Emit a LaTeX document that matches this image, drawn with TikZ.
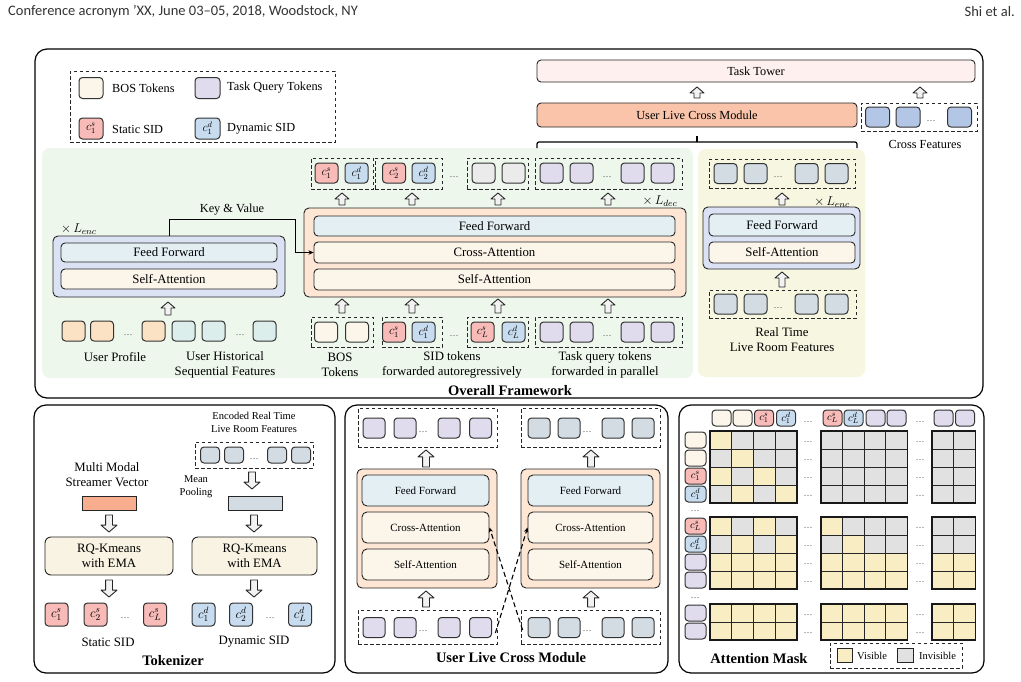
\RequirePackage{fix-cm}
\documentclass[tikz,border=0pt]{standalone}
\usepackage{fontspec}
\setmainfont{Liberation Serif}
\newfontfamily\hdrfont{Carlito}
\usetikzlibrary{fit,calc,arrows.meta}
\definecolor{bos}{HTML}{FBF6E9}
\definecolor{tq}{HTML}{E0DCEE}
\definecolor{ssid}{HTML}{F8BBB8}
\definecolor{dsid}{HTML}{C8DCEF}
\definecolor{prof}{HTML}{FCE2C4}
\definecolor{hist}{HTML}{DCEEEB}
\definecolor{gtok}{HTML}{EBEBEB}
\definecolor{live}{HTML}{D3DCE2}
\definecolor{encfill}{HTML}{DBE2F4}
\definecolor{fffill}{HTML}{E3EFF3}
\definecolor{attfill}{HTML}{FBF5EA}
\definecolor{decfill}{HTML}{FDE6D3}
\definecolor{greenbg}{HTML}{EEF7EC}
\definecolor{yellowbg}{HTML}{F7F6E1}
\definecolor{tower}{HTML}{FDF0EE}
\definecolor{ulcm}{HTML}{F9C4AA}
\definecolor{crossf}{HTML}{B4C6E5}
\definecolor{orangev}{HTML}{F8AD8E}
\definecolor{rq}{HTML}{F8F3E2}
\definecolor{vis}{HTML}{F8EDC3}
\definecolor{invis}{HTML}{E1E1E1}
\tikzset{
  every node/.style={inner sep=0pt},
  tok/.style={draw=black!80,line width=1pt,rounded corners=3.5pt,minimum width=23pt,minimum height=20pt,inner sep=0pt,font=\fontsize{12}{12}\selectfont},
  stok/.style={tok,minimum width=19pt,minimum height=16pt,font=\fontsize{10.5}{10.5}\selectfont},
  dbox/.style={draw=black!85,dash pattern=on 3.5pt off 2.5pt,line width=0.8pt,inner sep=0pt},
  lay/.style={draw=black!85,line width=0.9pt,rounded corners=4pt,inner sep=0pt},
  blk/.style={draw=black!85,line width=0.9pt,rounded corners=5pt,inner sep=0pt},
  panel/.style={draw=black,line width=1.2pt,rounded corners=12pt},
  barrow/.style={draw=black!85,fill=gray!10,line width=0.9pt,line join=round},
  conn/.style={draw=black,line width=1pt,-{Stealth[length=5pt,width=4.5pt]}},
  dots/.style={font=\fontsize{9}{9}\selectfont,text=black!75},
  t13/.style={font=\fontsize{12.8}{15}\selectfont},
  t12/.style={font=\fontsize{12.3}{15}\selectfont},
  t11/.style={font=\fontsize{11}{13}\selectfont},
  t10/.style={font=\fontsize{10.5}{13}\selectfont},
  tb/.style={font=\bfseries\fontsize{14.5}{16}\selectfont}
}
% box node from corner coordinates: \bx{style}{name}{x1}{y1}{x2}{y2}{text}
\newcommand{\bx}[7]{%
  \pgfmathsetmacro\bxcx{(#3+#5)/2}\pgfmathsetmacro\bxcy{(#4+#6)/2}%
  \pgfmathsetmacro\bxw{#5-#3}\pgfmathsetmacro\bxh{#6-#4}%
  \node[#1,minimum width=\bxw pt,minimum height=\bxh pt] (#2) at (\bxcx,\bxcy) {#7};}
\newcommand{\uparr}[3][1]{%
  \draw[barrow] let \p1=#2, \p2=#3 in
  ({\x1-3pt*#1},\y1) -- ({\x1-3pt*#1},{\y2-6pt*#1}) -- ({\x1-7pt*#1},{\y2-6pt*#1}) -- (\x1,\y2)
  -- ({\x1+7pt*#1},{\y2-6pt*#1}) -- ({\x1+3pt*#1},{\y2-6pt*#1}) -- ({\x1+3pt*#1},\y1) -- cycle;}
\newcommand{\downarr}[3][1]{%
  \draw[barrow] let \p1=#2, \p2=#3 in
  ({\x1-3pt*#1},\y1) -- ({\x1-3pt*#1},{\y2+6pt*#1}) -- ({\x1-7pt*#1},{\y2+6pt*#1}) -- (\x1,\y2)
  -- ({\x1+7pt*#1},{\y2+6pt*#1}) -- ({\x1+3pt*#1},{\y2+6pt*#1}) -- ({\x1+3pt*#1},\y1) -- cycle;}
\begin{document}
\begin{tikzpicture}[x=1pt,y=-1pt]
\useasboundingbox (0,0) rectangle (1021,681);
\fill[white] (0,0) rectangle (1021,681);

% header
\node[anchor=west,font=\hdrfont\fontsize{14.5}{15}\selectfont,text=black!80] (hl) at (8,12) {Conference acronym ’XX, June 03–05, 2018, Woodstock, NY};
\node[anchor=east,font=\hdrfont\fontsize{14.5}{15}\selectfont,text=black!80] (hr) at (1015,12) {Shi et al.};

% ===== top panel =====
\draw[panel] (35,49) rectangle (983,398);
\fill[greenbg,rounded corners=8pt] (42,148) rectangle (693,378);
\fill[yellowbg,rounded corners=8pt] (698,149) rectangle (865,377);

% legend
\node[dbox,fit={(70,71)(335,142)}] (legend) {};
\node[tok,fill=bos,minimum width=24pt,minimum height=21pt] (lgbos) at (91,88) {};
\node[t12,anchor=west] (lgbost) at (112,88) {BOS Tokens};
\node[tok,fill=tq,minimum width=25pt,minimum height=21pt] (lgtq) at (207.5,88) {};
\node[t12,anchor=west] (lgtqt) at (227,88) {Task Query Tokens};
\node[tok,fill=ssid,minimum width=24pt,minimum height=21pt] (lgs) at (91,128.5) {$c_1^s$};
\node[t12,anchor=west] (lgst) at (112,129) {Static SID};
\node[tok,fill=dsid,minimum width=25pt,minimum height=21pt] (lgd) at (207.5,128.5) {$c_1^d$};
\node[t12,anchor=west] (lgdt) at (227,129) {Dynamic SID};

% encoder (left)
\bx{blk,fill=encfill}{encbox}{53}{236}{285}{297}{}
\bx{lay,fill=fffill,t13}{eFF}{61}{243}{277}{262}{Feed Forward}
\bx{lay,fill=attfill,t13}{eSA}{61}{269}{277}{289}{Self-Attention}
\node[t13,anchor=west] (lenc) at (61,229) {$\times\, L_{enc}$};
\uparr{(168,315)}{(168,302)}
\foreach \a/\c [count=\i] in {73.5/prof,102/prof,153.5/prof,183.5/hist,213.5/hist,264.5/hist}
  \node[tok,fill=\c] (et\i) at (\a,331) {};
\node[dots] (ed1) at (128,335) {\ldots};
\node[dots] (ed2) at (240,335) {\ldots};
\node[t13] (upl) at (115,357) {User Profile};
\node[t13,align=center] (uhl) at (225,365) {User Historical\\Sequential Features};

% decoder
\bx{blk,fill=decfill}{decbox}{304}{208}{686}{297}{}
\bx{lay,fill=fffill,t13}{dFF}{314}{216}{675}{236}{Feed Forward}
\bx{lay,fill=attfill,t13}{dCA}{314}{242}{675}{263}{Cross-Attention}
\bx{lay,fill=attfill,t13}{dSA}{314}{269}{675}{290}{Self-Attention}
\node[t13] (ldec) at (660,201) {$\times\, L_{dec}$};

\coordinate (kv) at (295,219);
\draw[conn] (encbox.north) |- (kv) |- (dCA.west);
\node[t12] (kvl) at (232,210) {Key \& Value};

% decoder top groups
\node[dbox,fit={(311,158)(373,189)}] (tg1) {};
\node[dbox,fit={(375,158)(442,189)}] (tg2) {};
\node[dbox,fit={(467,158)(528,189)}] (tg3) {};
\node[dbox,fit={(535,158)(682,189)}] (tg4) {};
\foreach \a/\c/\t [count=\i] in {326.5/ssid/{$c_1^s$},356.5/dsid/{$c_1^d$},394/ssid/{$c_2^s$},423.5/dsid/{$c_2^d$},483.5/gtok/{},513.5/gtok/{},551.5/tq/{},581.5/tq/{},632.5/tq/{},662.5/tq/{}}
  \node[tok,fill=\c] (dt\i) at (\a,173) {\t};
\node[dots] (dtd1) at (454,177) {\ldots};
\node[dots] (dtd2) at (607,177) {\ldots};
\foreach \a in {342,412,498,608} {\uparr{(\a,205)}{(\a,193)}}

% decoder bottom groups
\node[dbox,fit={(311,317)(373,347)}] (bg1) {};
\node[dbox,fit={(382,317)(442,347)}] (bg2) {};
\node[dbox,fit={(467,317)(528,347)}] (bg3) {};
\node[dbox,fit={(535,317)(682,347)}] (bg4) {};
\foreach \a/\c/\t [count=\i] in {326/bos/{},357/bos/{},394/ssid/{$c_1^s$},423.5/dsid/{$c_1^d$},482.5/ssid/{$c_L^s$},513.5/dsid/{$c_L^d$},551.5/tq/{},581.5/tq/{},632.5/tq/{},662.5/tq/{}}
  \node[tok,fill=\c] (db\i) at (\a,332) {\t};
\node[dots] (dbd1) at (454,336) {\ldots};
\node[dots] (dbd2) at (607,336) {\ldots};
\foreach \a in {342,412,498,608} {\uparr{(\a,313)}{(\a,299)}}
\node[t13,align=center] (bosl) at (340,365) {BOS\\Tokens};
\node[t13,align=center] (sidl) at (452,365) {SID tokens\\forwarded autoregressively};
\node[t13,align=center] (tql) at (605,365) {Task query tokens\\forwarded in parallel};
\node[tb] (oft) at (510,391) {Overall Framework};

% task tower and cross module
\bx{lay,fill=tower,t12}{tower}{537}{60}{975}{82}{Task Tower}
\uparr{(697,98)}{(697,87)}
\uparr{(920,98)}{(920,87)}
\bx{lay,fill=ulcm,t12}{ulcmn}{537}{103}{857}{127}{User Live Cross Module}
\draw[line width=1.2pt,rounded corners=2pt] (537,148) -- (537,142) -- (857,142) -- (857,148);
\draw[line width=1.2pt] (697,142) -- (697,136);
\node[dbox,fit={(861,103)(977,131)}] (cfbox) {};
\foreach \a [count=\i] in {877.5,908,959.5}
  \node[tok,fill=crossf,minimum width=24pt] (cf\i) at (\a,117) {};
\node[dots] (cfd) at (931,121) {\ldots};
\node[t12] (cfl) at (925,144) {Cross Features};

% live room encoder
\node[dbox,fit={(709,159)(855,188)}] (ltop) {};
\foreach \a [count=\i] in {725.5,755.5,806.5,836.5}
  \node[tok,fill=live] (lt\i) at (\a,173.5) {};
\node[dots] (ltd) at (778,177) {\ldots};
\uparr{(782,205)}{(782,193)}
\node[t13] (lenc2) at (832,202) {$\times\, L_{enc}$};
\bx{blk,fill=encfill}{encbox2}{703}{207}{860}{269}{}
\bx{lay,fill=fffill,t13}{e2FF}{709}{214}{855}{236}{Feed Forward}
\bx{lay,fill=attfill,t13}{e2SA}{709}{242}{855}{263}{Self-Attention}
\uparr{(782,287)}{(782,272)}
\node[dbox,fit={(709,290)(856,318)}] (lbotbox) {};
\foreach \a [count=\i] in {725.5,755.5,806.5,836.5}
  \node[tok,fill=live] (lb\i) at (\a,304) {};
\node[dots] (lbd) at (778,308) {\ldots};
\node[t13,align=center] (rtl) at (782,340) {Real Time\\Live Room Features};

% ===== tokenizer panel =====
\draw[panel] (34,405) rectangle (335,673);
\node[t10,align=center] (erl) at (254,422) {Encoded Real Time\\Live Room Features};
\node[dbox,fit={(195,442)(313,468)}] (erbox) {};
\foreach \a [count=\i] in {210,234,277,301}
  \node[tok,fill=live,minimum width=19pt,minimum height=16pt] (er\i) at (\a,455) {};
\node[dots] (erd) at (254,459) {\ldots};
\node[t13,align=center] (mml) at (107,475) {Multi Modal\\Streamer Vector};
\bx{draw=black!85,line width=0.8pt,fill=orangev}{msv}{82}{496}{136}{510}{}
\node[t10,align=center] (mpl) at (196,487) {Mean\\Pooling};
\bx{draw=black!85,line width=0.8pt,fill=live}{mpv}{228}{496}{282}{510}{}
\downarr[1.15]{(252,472)}{(252,489)}
\downarr[1.15]{(109,515)}{(109,532)}
\downarr[1.15]{(254,515)}{(254,532)}
\bx{lay,rounded corners=6pt,fill=rq,t13,align=center}{rq1}{45}{537}{173}{575}{RQ-Kmeans\\with EMA}
\bx{lay,rounded corners=6pt,fill=rq,t13,align=center}{rq2}{192}{537}{317}{575}{RQ-Kmeans\\with EMA}
\downarr[1.15]{(109,580)}{(109,597)}
\downarr[1.15]{(254,580)}{(254,597)}
\foreach \a/\c/\t [count=\i] in {56.5/ssid/{$c_1^s$},95.5/ssid/{$c_2^s$},155/ssid/{$c_L^s$},203.5/dsid/{$c_1^d$},241/dsid/{$c_2^d$},300/dsid/{$c_L^d$}}
  \node[tok,fill=\c,minimum height=23pt,font=\fontsize{13}{13}\selectfont] (tk\i) at (\a,614.5) {\t};
\node[dots] (tkd1) at (125,618) {\ldots};
\node[dots] (tkd2) at (270,618) {\ldots};
\node[t13] (ssl) at (108,642) {Static SID};
\node[t13] (dsl) at (254,642) {Dynamic SID};
\node[tb] (tokt) at (173,661) {Tokenizer};

% ===== user live cross module panel =====
\draw[panel] (345,405) rectangle (668,673);
\node[dbox,fit={(358,408)(497,447)}] (ctl) {};
\node[dbox,fit={(521,408)(660,447)}] (ctr) {};
\foreach \a [count=\i] in {374,405,449,480.5}
  \node[tok,fill=tq,minimum width=22pt] (ctlt\i) at (\a,428) {};
\foreach \a [count=\i] in {539,569,613,643}
  \node[tok,fill=live,minimum width=22pt] (ctrt\i) at (\a,428) {};
\node[dots] (ctld) at (423,432) {\ldots};
\node[dots] (ctrd) at (587,432) {\ldots};
\uparr[1.15]{(426,467)}{(426,450)}
\uparr[1.15]{(591,467)}{(591,450)}
\bx{blk,fill=decfill}{lblk}{357}{469}{497}{588}{}
\bx{lay,rounded corners=5pt,fill=fffill,t11}{lFF}{362}{475}{489}{506}{Feed Forward}
\bx{lay,rounded corners=5pt,fill=attfill,t11}{lCA}{362}{512}{489}{543}{Cross-Attention}
\bx{lay,rounded corners=5pt,fill=attfill,t11}{lSA}{362}{549}{489}{580}{Self-Attention}
\bx{blk,fill=decfill}{rblk}{521}{469}{660}{588}{}
\bx{lay,rounded corners=5pt,fill=fffill,t11}{rFF}{528}{475}{653}{506}{Feed Forward}
\bx{lay,rounded corners=5pt,fill=attfill,t11}{rCA}{528}{512}{653}{543}{Cross-Attention}
\bx{lay,rounded corners=5pt,fill=attfill,t11}{rSA}{528}{549}{653}{580}{Self-Attention}
\uparr[1.15]{(426,607)}{(426,591)}
\uparr[1.15]{(591,607)}{(591,591)}
\node[dbox,fit={(358,610)(497,644)}] (cbl) {};
\node[dbox,fit={(521,610)(660,644)}] (cbr) {};
\foreach \a [count=\i] in {374,405,449,480.5}
  \node[tok,fill=tq,minimum width=22pt] (cblt\i) at (\a,627.5) {};
\foreach \a [count=\i] in {539,569,613,643}
  \node[tok,fill=live,minimum width=22pt] (cbrt\i) at (\a,627.5) {};
\node[dots] (cbld) at (423,631) {\ldots};
\node[dots] (cbrd) at (587,631) {\ldots};
\draw[line width=1.1pt,dash pattern=on 5pt off 3pt,-{Stealth[length=5pt,width=4.5pt]}] ($(cbl.east)+(-2,6)$) -- (rCA.west);
\draw[line width=1.1pt,dash pattern=on 5pt off 3pt,-{Stealth[length=5pt,width=4.5pt]}] ($(cbr.west)+(2,3)$) -- (lCA.east);
\node[tb] (ulct) at (511,658) {User Live Cross Module};

% ===== attention mask panel =====
\draw[panel] (679,405) rectangle (984,673);
\foreach \a/\c/\t [count=\i] in {721.5/bos/{},742.5/bos/{},764/ssid/{$c_1^s$},786/dsid/{$c_1^d$},832.5/ssid/{$c_L^s$},853.5/dsid/{$c_L^d$},875.5/tq/{},896.5/tq/{},943.5/tq/{},965/tq/{}}
  \node[stok,fill=\c] (mh\i) at (\a,418) {\t};
\node[dots] (mhd1) at (808,422) {\ldots};
\node[dots] (mhd2) at (920,422) {\ldots};
\foreach \a/\c/\t [count=\i] in {440/bos/{},458/bos/{},476/ssid/{$c_1^s$},494/dsid/{$c_1^d$},526/ssid/{$c_L^s$},544/dsid/{$c_L^d$},562/tq/{},580/tq/{},613/tq/{},631/tq/{}}
  \node[stok,fill=\c,minimum width=21pt] (mv\i) at (695.5,\a) {\t};
\node[dots] (mvd1) at (695,511) {\ldots};
\node[dots] (mvd2) at (695,598) {\ldots};
\foreach \ry/\pat in {431/{1,0,0,0,0,0,0,0,0,0},449/{0,1,0,0,0,0,0,0,0,0},467/{1,0,1,0,0,0,0,0,0,0},485/{0,1,0,1,0,0,0,0,0,0},517/{1,0,1,0,1,0,0,0,0,0},535/{0,1,0,1,0,1,0,0,0,0},553/{1,1,1,1,1,1,1,1,1,1},571/{1,1,1,1,1,1,1,1,1,1},604/{1,1,1,1,1,1,1,1,1,1},622/{1,1,1,1,1,1,1,1,1,1}} {
  \foreach \v [count=\c] in \pat {
    \pgfmathsetmacro\xx{{710,731.75,753.5,775.25,821,842.5,864,885.5,932,953.5}[\c-1]}
    \def\cc{invis}\ifnum\v=1 \def\cc{vis}\fi
    \draw[fill=\cc,draw=black!85,line width=0.8pt] (\xx,\ry) rectangle ++(21.6,18);
  }
  \node[dots] at (808,\ry+11) {\ldots};
  \node[dots] at (920,\ry+11) {\ldots};
}
\foreach \ry/\h in {431/72,517/72,604/36} {
  \draw[line width=1.1pt,draw=black!90] (710,\ry) rectangle (797,\ry+\h);
  \draw[line width=1.1pt,draw=black!90] (821,\ry) rectangle (907.5,\ry+\h);
  \draw[line width=1.1pt,draw=black!90] (932,\ry) rectangle (975.1,\ry+\h);
}
\node[dbox,fit={(830,643)(962,668)}] (mleg) {};
\bx{draw=black!85,line width=0.8pt,fill=vis}{visq}{837}{648}{852}{662}{}
\node[t10,anchor=west] (visl) at (857,656) {Visible};
\bx{draw=black!85,line width=0.8pt,fill=invis}{invq}{897}{648}{913}{662}{}
\node[t10,anchor=west] (invl) at (919,656) {Invisible};
\node[tb] (amt) at (759,659) {Attention Mask};
\end{tikzpicture}
\end{document}
